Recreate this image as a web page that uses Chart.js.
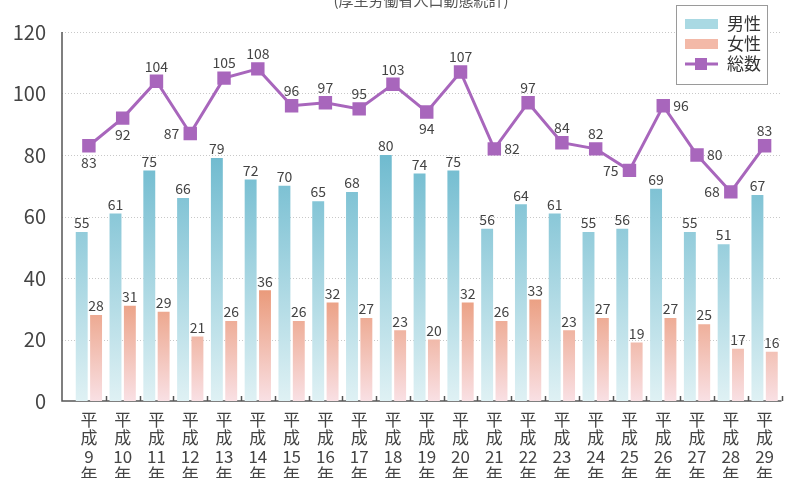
<!DOCTYPE html>
<html>
<head>
<meta charset="utf-8">
<script src="https://cdn.jsdelivr.net/npm/chart.js@4"></script>
<style>
  body { margin: 0; background: #fff; }
  #wrap { width: 791px; height: 478px; position: relative; }
</style>
</head>
<body>
<div id="wrap"><canvas id="grafico"></canvas></div>
<script>
// datos
const categories = ['平成9年','平成10年','平成11年','平成12年','平成13年','平成14年','平成15年','平成16年','平成17年','平成18年','平成19年','平成20年','平成21年','平成22年','平成23年','平成24年','平成25年','平成26年','平成27年','平成28年','平成29年']
const male = [55, 61, 75, 66, 79, 72, 70, 65, 68, 80, 74, 75, 56, 64, 61, 55, 56, 69, 55, 51, 67]
const female = [28, 31, 29, 21, 26, 36, 26, 32, 27, 23, 20, 32, 26, 33, 23, 27, 19, 27, 25, 17, 16]
const total = [83, 92, 104, 87, 105, 108, 96, 97, 95, 103, 94, 107, 82, 97, 84, 82, 75, 96, 80, 68, 83]
const yTicks = [0, 20, 40, 60, 80, 100, 120]
const titleText = '(厚生労働省人口動態統計)'

// donde va la etiqueta del total
const totalLabelPos = ['below','below','above','left','above','above','above','above','above','above','below','above','right','above','above','above','left','right','right','left','above']

const FONT = "'Noto Sans CJK JP', 'Noto Sans', sans-serif"
const purple = '#a866bc'

function gradBlue(ctx) {
  const area = ctx.chart.chartArea
  if (!area) return '#9fd0de'
  const g = ctx.chart.ctx.createLinearGradient(0, area.top, 0, area.bottom)
  g.addColorStop(0, '#5aaec6')
  g.addColorStop(0.35, '#72bcd0')
  g.addColorStop(1, '#dff1f4')
  return g
}

function gradPink(ctx) {
  const area = ctx.chart.chartArea
  if (!area) return '#f0b0a0'
  const g = ctx.chart.ctx.createLinearGradient(0, area.top, 0, area.bottom)
  g.addColorStop(0, '#d8663c')
  g.addColorStop(0.62, '#e6885f')
  g.addColorStop(1, '#f9e0e4')
  return g
}

// rejilla, ejes, titulo, etiquetas y leyenda
const decor = {
  id: 'decor',
  beforeDatasetsDraw(chart) {
    const c = chart.ctx
    const y = chart.scales.y
    const x = chart.scales.x
    const area = chart.chartArea
    const left = area.left - 10
    c.save()
    c.strokeStyle = '#c8c8c8'
    c.lineWidth = 1
    c.setLineDash([1, 2])
    yTicks.forEach(v => {
      if (v === 0) return
      const py = Math.round(y.getPixelForValue(v)) + 0.5
      c.beginPath()
      c.moveTo(left, py)
      c.lineTo(area.right, py)
      c.stroke()
    })
    c.setLineDash([])
    c.strokeStyle = '#555'
    c.lineWidth = 1.5
    c.beginPath()
    c.moveTo(left, y.getPixelForValue(120))
    c.lineTo(left, area.bottom)
    c.lineTo(area.right, area.bottom)
    c.stroke()
    // marcas pequeñas entre categorias
    const w = x.getPixelForValue(1) - x.getPixelForValue(0)
    for (let i = 1; i <= categories.length; i++) {
      const px = Math.round(x.getPixelForValue(i) - w / 2) + 0.5
      c.beginPath()
      c.moveTo(px, area.bottom)
      c.lineTo(px, area.bottom - 5)
      c.stroke()
    }
    c.restore()
  },
  afterDraw(chart) {
    const c = chart.ctx
    c.save()
    // titulo cortado arriba
    c.fillStyle = '#555'
    c.font = '15px ' + FONT
    c.textAlign = 'center'
    c.textBaseline = 'alphabetic'
    c.fillText(titleText, 421, 6)

    // valores de las barras
    c.font = '14px ' + FONT
    c.fillStyle = '#444'
    c.textBaseline = 'middle'
    ;[0, 1].forEach(di => {
      const meta = chart.getDatasetMeta(di)
      meta.data.forEach((bar, i) => {
        c.textAlign = 'center'
        c.fillText(String(chart.data.datasets[di].data[i]), bar.x, bar.y - 9)
      })
    })
    // valores del total
    const lm = chart.getDatasetMeta(2)
    lm.data.forEach((p, i) => {
      const pos = totalLabelPos[i]
      let tx = p.x, ty = p.y
      c.textAlign = 'center'
      if (pos === 'above') ty -= 15
      else if (pos === 'below') ty += 17
      else if (pos === 'left') { c.textAlign = 'right'; tx -= 11 }
      else { c.textAlign = 'left'; tx += 10 }
      c.fillText(String(total[i]), tx, ty)
    })

    // leyenda
    const bx = 676, by = 5, bw = 91, bh = 79
    c.fillStyle = '#fff'
    c.fillRect(bx, by, bw, bh)
    c.strokeStyle = '#9a9a9a'
    c.lineWidth = 1
    c.strokeRect(bx + 0.5, by + 0.5, bw, bh)
    const names = chart.data.datasets.map(d => d.label)
    const rows = [24, 44, 64]
    c.fillStyle = '#a9d9e3'
    c.fillRect(685, rows[0] - 5, 33, 10)
    c.fillStyle = '#f3b9a8'
    c.fillRect(685, rows[1] - 5, 33, 10)
    c.strokeStyle = purple
    c.lineWidth = 3
    c.beginPath()
    c.moveTo(685, rows[2])
    c.lineTo(718, rows[2])
    c.stroke()
    c.fillStyle = purple
    c.fillRect(695, rows[2] - 6, 12, 12)
    c.fillStyle = '#333'
    c.font = '17px ' + FONT
    c.textAlign = 'left'
    c.textBaseline = 'middle'
    names.forEach((n, i) => c.fillText(n, 727, rows[i]))
    c.restore()
  }
}

const ctx = document.getElementById('grafico').getContext('2d')
const grafico = new Chart(ctx, {
  type: 'bar',
  data: {
    labels: categories,
    datasets: [
      {
        label: '男性',
        data: male,
        backgroundColor: gradBlue,
        categoryPercentage: 0.85,
        barPercentage: 0.83,
        order: 2
      },
      {
        label: '女性',
        data: female,
        backgroundColor: gradPink,
        categoryPercentage: 0.85,
        barPercentage: 0.83,
        order: 2
      },
      {
        type: 'line',
        label: '総数',
        data: total,
        borderColor: purple,
        backgroundColor: purple,
        borderWidth: 3,
        pointStyle: 'rect',
        pointRadius: 9.5,
        pointBorderWidth: 0,
        tension: 0,
        order: 0
      }
    ]
  },
  options: {
    responsive: true,
    maintainAspectRatio: false,
    animation: false,
    layout: { padding: { top: 32, right: 4, left: 0, bottom: 0 } },
    plugins: {
      legend: { display: false },
      title: { display: false },
      tooltip: { enabled: false }
    },
    scales: {
      x: {
        offset: true,
        grid: { display: false, drawTicks: false },
        border: { display: false },
        ticks: {
          autoSkip: false,
          maxRotation: 0,
          minRotation: 0,
          padding: 10,
          color: '#444',
          font: { family: FONT, size: 17, lineHeight: 1.06 },
          callback: function(v, i) {
            const num = categories[i].replace('平成', '').replace('年', '')
            return ['平', '成', num, '年']
          }
        },
        afterFit: s => { s.height = 77 }
      },
      y: {
        min: 0,
        max: 120,
        grid: { display: false, drawTicks: false },
        border: { display: false },
        ticks: {
          stepSize: 20,
          padding: 26,
          color: '#444',
          font: { family: FONT, size: 20 }
        },
        afterFit: s => {
          s.width = 72
          s.paddingTop = 0
          s.paddingBottom = 0
        }
      }
    }
  },
  plugins: [decor]
})
</script>
</body>
</html>
